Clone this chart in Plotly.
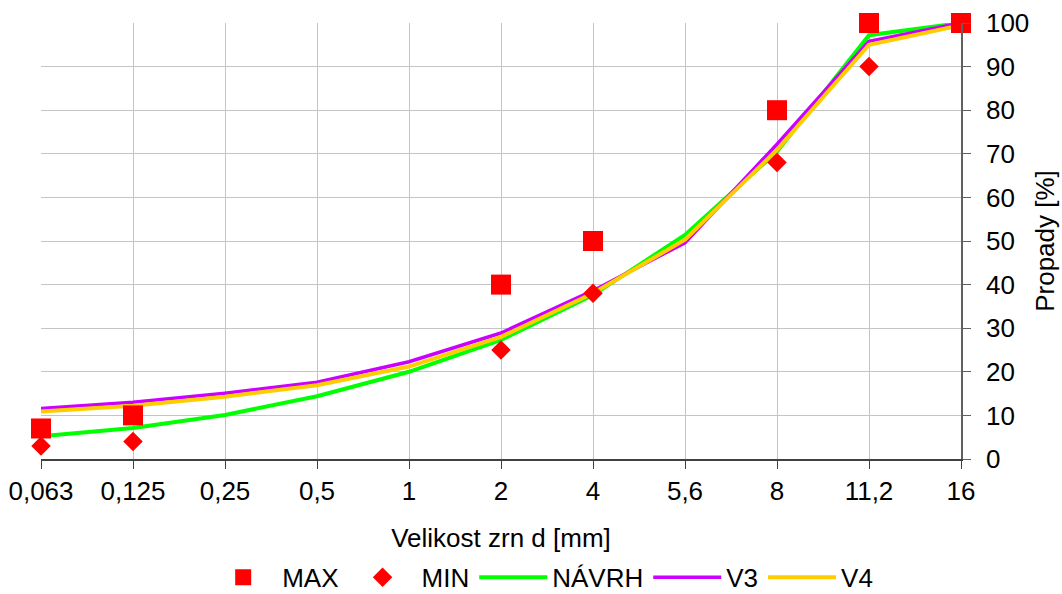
import plotly.graph_objects as go

categories = ["0,063", "0,125", "0,25", "0,5", "1", "2", "4", "5,6", "8", "11,2", "16"]

max_vals = [7, 10, None, None, None, 40, 50, None, 80, 100, 100]
min_vals = [3, 4, None, None, None, 25, 38, None, 68, 90, 100]
navrh_vals = [5.2, 7.1, 10.1, 14.4, 20.0, 27.3, 37.6, 51.4, 70.5, 97.2, 100]
v3_vals = [11.6, 13.0, 15.1, 17.6, 22.3, 28.9, 38.6, 49.6, 72.2, 95.8, 100]
v4_vals = [10.9, 12.2, 14.3, 16.9, 21.2, 28.0, 38.0, 50.3, 70.9, 95.0, 99.5]

FONT = "Liberation Sans, Arial, sans-serif"
FS = 26

fig = go.Figure()

fig.add_trace(go.Scatter(x=categories, y=navrh_vals, mode="lines", name="NÁVRH",
                         line=dict(color="#00ff00", width=4), legendrank=3))
fig.add_trace(go.Scatter(x=categories, y=v3_vals, mode="lines", name="V3",
                         line=dict(color="#cc00ff", width=3.5), legendrank=4))
fig.add_trace(go.Scatter(x=categories, y=v4_vals, mode="lines", name="V4",
                         line=dict(color="#ffcc00", width=4), legendrank=5))
fig.add_trace(go.Scatter(x=categories, y=min_vals, mode="markers", name="MIN", cliponaxis=False,
                         marker=dict(symbol="diamond", color="#ff0000", size=15), legendrank=2))
fig.add_trace(go.Scatter(x=categories, y=max_vals, mode="markers", name="MAX", cliponaxis=False,
                         marker=dict(symbol="square", color="#ff0000", size=20), legendrank=1))

fig.update_layout(
    width=1062, height=594,
    margin=dict(l=41, r=101, t=23, b=135, autoexpand=False),
    plot_bgcolor="white", paper_bgcolor="white",
    font=dict(family=FONT, size=FS, color="black"),
    showlegend=True,
    legend=dict(orientation="h", xref="container", yref="container",
                x=0.5096, xanchor="center", y=0.028, yanchor="middle",
                font=dict(size=FS), itemwidth=68, tracegroupgap=0),
    xaxis=dict(type="category", range=[0, 10], showgrid=True, gridcolor="#c4c4c4", gridwidth=1,
               showline=True, linecolor="#404040", linewidth=1.5, automargin=False,
               ticks="outside", ticklen=8, tickcolor="#404040",
               tickfont=dict(size=FS),
               title=dict(text="Velikost zrn d [mm]", font=dict(size=FS), standoff=24),
               zeroline=False),
    yaxis=dict(side="right", range=[0, 100], dtick=10, showgrid=True, gridcolor="#c4c4c4", gridwidth=1,
               showline=True, linecolor="#606060", linewidth=1.5, automargin=False,
               ticks="outside", ticklen=8, tickcolor="#606060", ticklabelstandoff=10,
               tickfont=dict(size=FS),
               title=dict(text="Propady [%]", font=dict(size=FS), standoff=7),
               zeroline=False),
)

fig.write_html("out.html")
